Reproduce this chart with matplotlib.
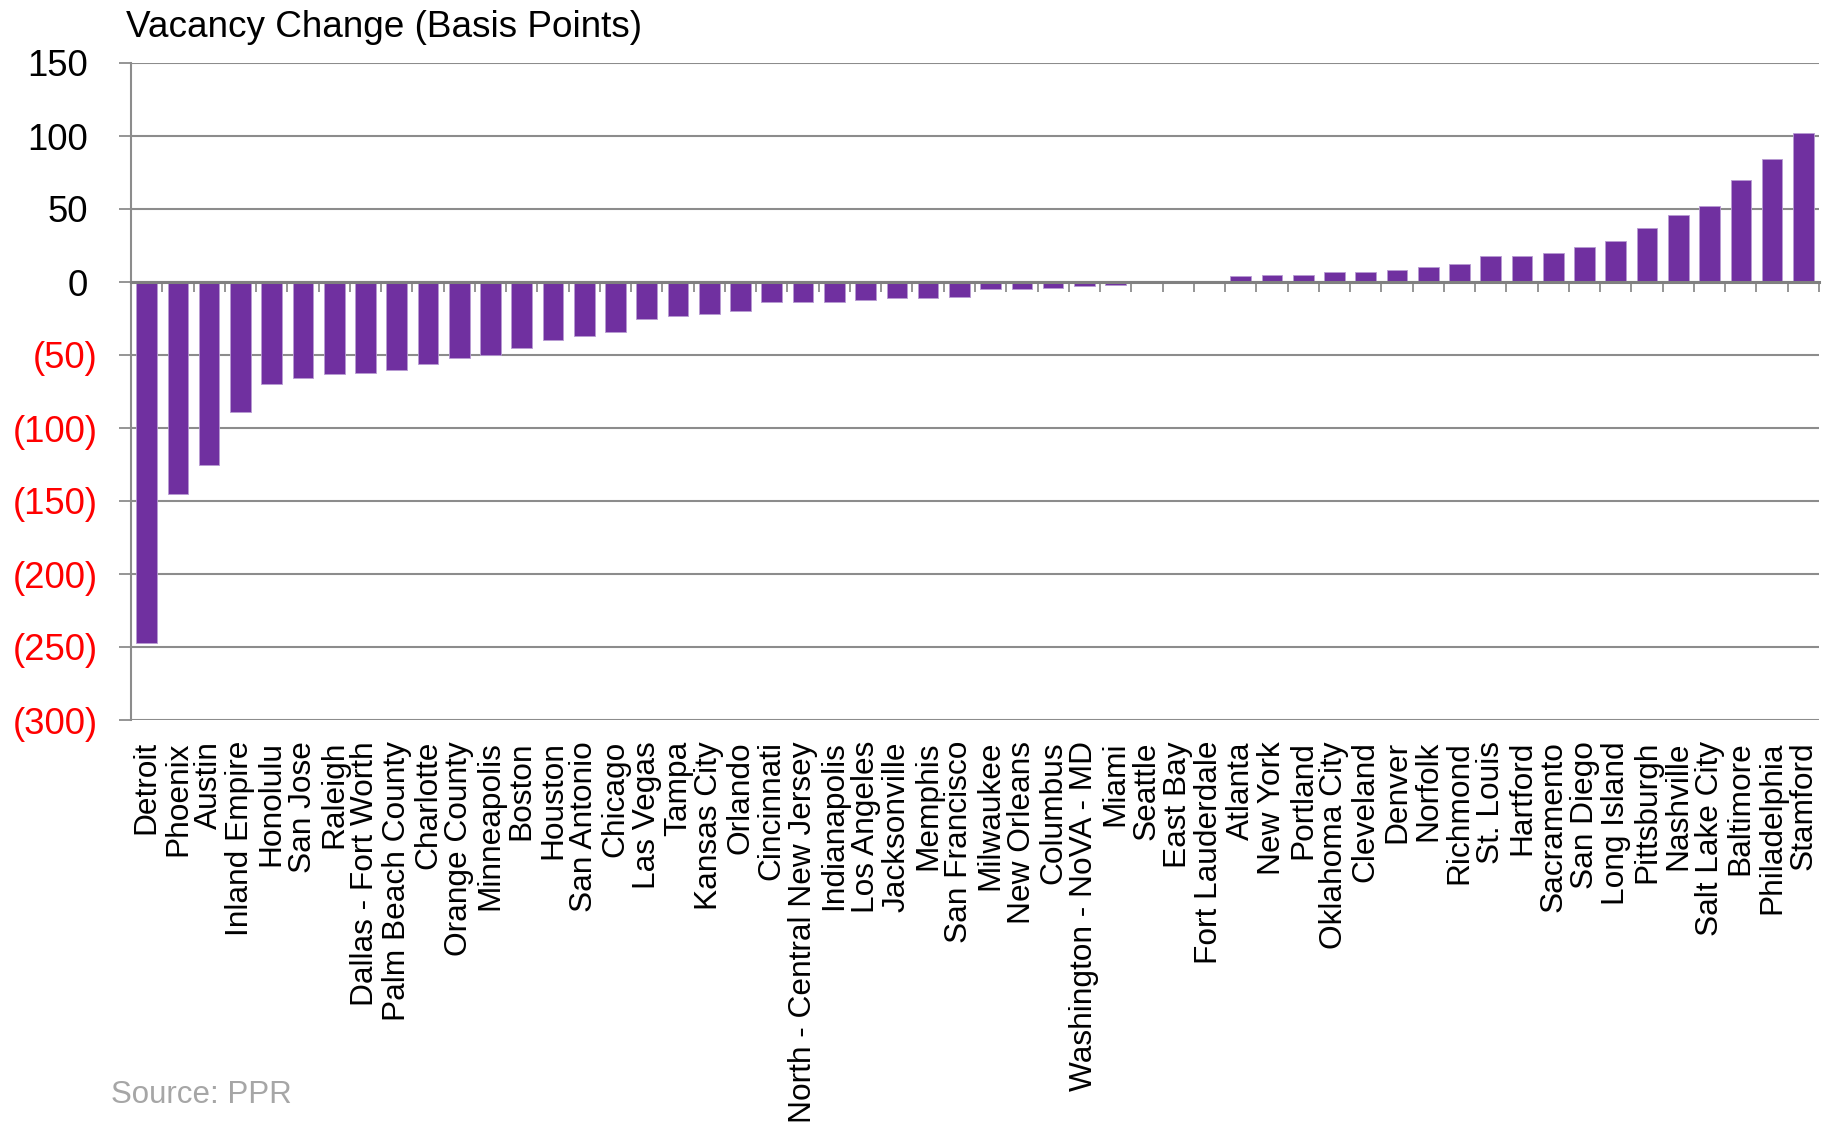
import matplotlib
matplotlib.use('Agg')
import matplotlib.pyplot as plt
import matplotlib.transforms as mtransforms
import numpy as np

plt.rcParams['font.family'] = ['Liberation Sans', 'DejaVu Sans']

# vacancy change by metro, basis points (sorted low -> high)
metros = [
    'Detroit', 'Phoenix', 'Austin', 'Inland Empire', 'Honolulu', 'San Jose',
    'Raleigh', 'Dallas - Fort Worth', 'Palm Beach County', 'Charlotte',
    'Orange County', 'Minneapolis', 'Boston', 'Houston', 'San Antonio',
    'Chicago', 'Las Vegas', 'Tampa', 'Kansas City', 'Orlando', 'Cincinnati',
    'North - Central New Jersey', 'Indianapolis', 'Los Angeles', 'Jacksonville',
    'Memphis', 'San Francisco', 'Milwaukee', 'New Orleans', 'Columbus',
    'Washington - NoVA - MD', 'Miami', 'Seattle', 'East Bay', 'Fort Lauderdale',
    'Atlanta', 'New York', 'Portland', 'Oklahoma City', 'Cleveland', 'Denver',
    'Norfolk', 'Richmond', 'St. Louis', 'Hartford', 'Sacramento', 'San Diego',
    'Long Island', 'Pittsburgh', 'Nashville', 'Salt Lake City', 'Baltimore',
    'Philadelphia', 'Stamford',
]
vacancy_bps = [
    -247, -145, -125, -89, -70, -66,
    -63, -62, -60, -56,
    -52, -50, -45, -40, -37,
    -34, -25, -23, -22, -20, -14,
    -14, -14, -12, -11,
    -11, -10, -5, -5, -4,
    -3, -2, -1, 1, 1,
    4, 4.5, 5, 7, 7, 8,
    10, 12, 18, 18, 20, 24,
    28, 37, 46, 52, 70,
    84, 102,
]
y_ticks = [150, 100, 50, 0, -50, -100, -150, -200, -250, -300]

W, H, DPI = 1831, 1126, 100
fig = plt.figure(figsize=(W / DPI, H / DPI), dpi=DPI)
ax = fig.add_axes([131 / W, 1 - 720 / H, (1819 - 131) / W, (720 - 63) / H])

grey = '#8c8c8c'
x = np.arange(len(metros))
ax.bar(x, vacancy_bps, width=0.66, color='#7030A0', edgecolor='#b79bd2',
       linewidth=0.6, zorder=2)

ax.set_xlim(-0.5, len(metros) - 0.5)
ax.set_ylim(-300, 150)

# horizontal gridlines
ax.set_yticks(y_ticks)
ax.yaxis.grid(True, color=grey, linewidth=1.5, zorder=0)
ax.set_axisbelow(True)

# axis spines: category axis sits on zero
for side in ('top', 'right'):
    ax.spines[side].set_visible(False)
ax.spines['left'].set_color(grey)
ax.spines['left'].set_linewidth(1.5)
ax.spines['bottom'].set_position(('data', 0))
ax.spines['bottom'].set_color('#808080')
ax.spines['bottom'].set_linewidth(2.2)
ax.spines['bottom'].set_zorder(3)

ax.set_xticks(np.arange(-0.5, len(metros), 1.0))
ax.tick_params(axis='x', direction='out', length=7.2, width=1.3, color=grey,
               labelbottom=False)
ax.tick_params(axis='y', direction='out', length=8.6, width=1.3, color=grey,
               pad=15.5, labelsize=26.3)


def fmt(v):
    return f'({abs(v)})' if v < 0 else f'{v}'


ax.set_yticklabels([fmt(v) for v in y_ticks])
shift = mtransforms.ScaledTranslation(-10 / DPI, 0, fig.dpi_scale_trans)
for v, lab in zip(y_ticks, ax.get_yticklabels()):
    if v < 0:
        lab.set_color('#ff0000')
    else:
        lab.set_color('black')
        lab.set_transform(lab.get_transform() + shift)

# category labels along the bottom of the plot
lab_tr = mtransforms.blended_transform_factory(ax.transData, ax.transAxes) + \
    mtransforms.ScaledTranslation(0, -21 / DPI, fig.dpi_scale_trans)
for xi, name in zip(x, metros):
    ax.text(xi, 0, name, rotation=90, ha='center', va='top',
            fontsize=22.8, transform=lab_tr)

fig.text(126 / W, 1 - 37 / H, 'Vacancy Change (Basis Points)', fontsize=26.6,
         ha='left', va='baseline')
fig.text(111 / W, 1 - 1103 / H, 'Source: PPR', fontsize=22.5, color='#a6a6a6',
         ha='left', va='baseline')

fig.savefig('out.png', dpi=DPI)
